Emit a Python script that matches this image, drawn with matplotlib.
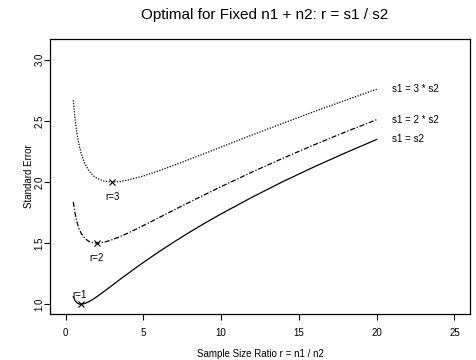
import matplotlib.pyplot as plt
import numpy as np

# sample size ratio r = n1 / n2
ratio = [0.5, 0.6, 0.7, 0.8, 0.9, 1.0, 1.25, 1.5, 1.75, 2, 2.5, 3, 3.5, 4,
         5, 6, 7, 8, 9, 10, 12, 14, 16, 18, 20]

# standard error
se_equal = [1.061, 1.033, 1.016, 1.006, 1.001, 1.000, 1.006, 1.021, 1.039, 1.061,
            1.107, 1.155, 1.203, 1.250, 1.342, 1.429, 1.512, 1.591, 1.667, 1.739,
            1.876, 2.005, 2.125, 2.239, 2.348]
se_two = [1.837, 1.751, 1.689, 1.643, 1.608, 1.581, 1.537, 1.514, 1.503, 1.500,
          1.508, 1.528, 1.553, 1.581, 1.643, 1.708, 1.773, 1.837, 1.900, 1.962,
          2.082, 2.196, 2.305, 2.410, 2.510]
se_three = [2.669, 2.530, 2.427, 2.348, 2.286, 2.236, 2.148, 2.092, 2.055, 2.031,
            2.006, 2.000, 2.005, 2.016, 2.049, 2.092, 2.138, 2.187, 2.236, 2.286,
            2.385, 2.482, 2.577, 2.669, 2.759]

series_labels = ["s1 = s2", "s1 = 2 * s2", "s1 = 3 * s2"]
optimum_r = [1, 2, 3]
optimum_se = [1.0, 1.5, 2.0]
optimum_labels = ["r=1", "r=2", "r=3"]

plt.rcParams['font.family'] = ['Liberation Sans', 'DejaVu Sans']

fig = plt.figure(figsize=(4.76, 3.6), dpi=100)
ax = fig.add_axes([50 / 476, 1 - 314 / 360, 420 / 476, 275 / 360])

ax.plot(ratio, se_equal, color='black', lw=0.9, ls='-')
ax.plot(ratio, se_two, color='black', lw=0.9, ls=(0, (4, 1.5, 1, 1.5)))
ax.plot(ratio, se_three, color='black', lw=0.9, ls=(0, (1, 1.2)))

for lab, y in zip(series_labels, [se_equal[-1], se_two[-1], se_three[-1]]):
    ax.text(21, y, lab, fontsize=7, va='center', ha='left')

ax.plot(optimum_r, optimum_se, ls='none', marker='x', color='black', ms=5, mew=0.8)
ax.text(optimum_r[0] - 0.1, optimum_se[0] + 0.075, optimum_labels[0], fontsize=7,
        ha='center', va='center')
for r, s, lab in zip(optimum_r[1:], optimum_se[1:], optimum_labels[1:]):
    ax.text(r, s - 0.12, lab, fontsize=7, ha='center', va='center')

ax.set_xlim(-1, 26)
ax.set_ylim(0.92, 3.17)
ax.set_xticks([0, 5, 10, 15, 20, 25])
ax.set_yticks([1.0, 1.5, 2.0, 2.5, 3.0])
ax.set_yticklabels(['1.0', '1.5', '2.0', '2.5', '3.0'], rotation=90, va='center')
ax.tick_params(labelsize=7, length=4, width=0.8)
ax.tick_params(axis='x', pad=6)
ax.tick_params(axis='y', pad=0)
for sp in ax.spines.values():
    sp.set_linewidth(0.9)

ax.set_xlabel("Sample Size Ratio r = n1 / n2", fontsize=7, labelpad=8)
ax.set_ylabel("Standard Error", fontsize=7, labelpad=0)
fig.text(0.556, 1 - 15 / 360, "Optimal for Fixed n1 + n2: r = s1 / s2",
         fontsize=11, ha='center', va='center')

fig.savefig("out.png", dpi=100)
